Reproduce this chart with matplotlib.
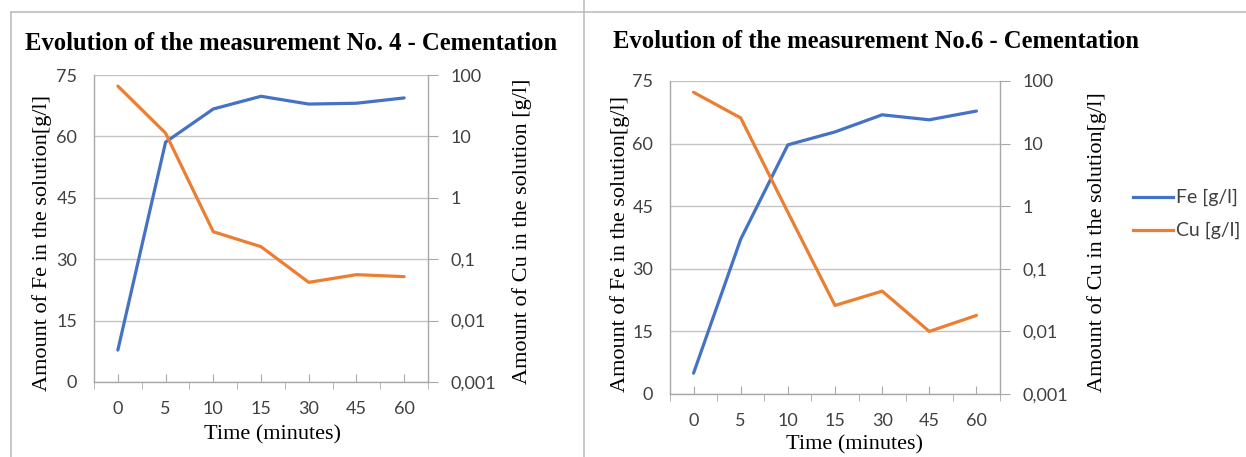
import matplotlib

matplotlib.use("Agg")
import matplotlib.pyplot as plt
from matplotlib.lines import Line2D

# data
times = ['0', '5', '10', '15', '30', '45', '60']
fe_no4 = [7.8, 58.6, 66.7, 69.8, 67.9, 68.1, 69.4]
cu_no4 = [66, 11.3, 0.28, 0.16, 0.042, 0.056, 0.052]
fe_no6 = [5.0, 37.1, 59.7, 62.8, 66.9, 65.7, 67.8]
cu_no6 = [66, 25.7, 0.8, 0.026, 0.044, 0.010, 0.018]

fe_ticks = [0, 15, 30, 45, 60, 75]
cu_ticks = [0.001, 0.01, 0.1, 1, 10, 100]
cu_labels = ['0,001', '0,01', '0,1', '1', '10', '100']
series_names = ['Fe [g/l]', 'Cu [g/l]']

BLUE = '#4472C4'
ORANGE = '#ED7D31'
GRID = '#c4c4c4'
AXIS = '#a8a8a8'
TICK_TXT = '#404040'
SERIF = 'Liberation Serif'
SANS = 'Lato'
TICK_FS = 13
LABEL_FS = 16
TITLE_FS = 17.7

W, H = 1246, 457
fig = plt.figure(figsize=(W / 100, H / 100), dpi=100)


def px(x, y):
    return x / W, 1 - y / H


def panel(rect, fe, cu):
    ax = fig.add_axes(rect)
    n = len(times)
    xs = list(range(n))
    ax.plot(xs, fe, color=BLUE, lw=2.3, solid_capstyle='round', zorder=3)
    ax.set_xlim(-0.5, n - 0.5)
    ax.set_ylim(0, 75)
    ax.set_yticks(fe_ticks)
    ax.set_yticklabels([str(t) for t in fe_ticks], family=SANS, fontsize=TICK_FS, color=TICK_TXT)
    ax.tick_params(axis='y', length=0, pad=12)
    ax.set_xticks(xs)
    ax.set_xticklabels(times, family=SANS, fontsize=TICK_FS, color=TICK_TXT)
    ax.set_xticks([i - 0.5 for i in range(n + 1)], minor=True)
    ax.tick_params(axis='x', which='major', direction='in', length=6, color=AXIS, pad=14)
    ax.tick_params(axis='x', which='minor', direction='out', length=5, color=AXIS)
    ax.grid(axis='y', color=GRID, lw=1)
    ax.set_axisbelow(True)
    for s in ['top', 'right']:
        ax.spines[s].set_visible(False)
    for s in ['left', 'bottom']:
        ax.spines[s].set_color(AXIS)
        ax.spines[s].set_linewidth(1)

    ax2 = ax.twinx()
    ax2.plot(xs, cu, color=ORANGE, lw=2.3, solid_capstyle='round', zorder=3)
    ax2.set_yscale('log')
    ax2.set_ylim(0.001, 100)
    ax2.set_yticks(cu_ticks)
    ax2.set_yticklabels(cu_labels, family=SANS, fontsize=TICK_FS, color=TICK_TXT)
    ax2.yaxis.set_minor_locator(plt.NullLocator())
    ax2.tick_params(axis='y', length=7, color=AXIS, pad=9)
    for s in ['top', 'left', 'bottom']:
        ax2.spines[s].set_visible(False)
    ax2.spines['right'].set_color(AXIS)
    ax2.spines['right'].set_linewidth(1)
    return ax, ax2


# left panel: measurement No. 4
l, b = px(94, 382)
r, t = px(428, 75)
panel([l, b, r - l, t - b], fe_no4, cu_no4)

# right panel: measurement No. 6
l, b = px(670, 394)
r, t = px(1000, 81)
panel([l, b, r - l, t - b], fe_no6, cu_no6)

# titles
fig.text(*px(25, 43), 'Evolution of the measurement No. 4 - Cementation',
         family=SERIF, fontweight='bold', fontsize=TITLE_FS, va='center', ha='left')
fig.text(*px(613, 42), 'Evolution of the measurement No.6 - Cementation',
         family=SERIF, fontweight='bold', fontsize=TITLE_FS, va='center', ha='left')

# axis labels
ylab_fe = 'Amount of Fe in the solution[g/l]'
fig.text(*px(42, 243), ylab_fe, family=SERIF, fontsize=LABEL_FS, rotation=90, ha='center', va='center')
fig.text(*px(522, 231), 'Amount of Cu in the solution [g/l]', family=SERIF, fontsize=LABEL_FS,
         rotation=90, ha='center', va='center')
fig.text(*px(620, 244), ylab_fe, family=SERIF, fontsize=LABEL_FS, rotation=90, ha='center', va='center')
fig.text(*px(1097, 242), 'Amount of Cu in the solution[g/l]', family=SERIF, fontsize=LABEL_FS,
         rotation=90, ha='center', va='center')
fig.text(*px(272, 435), 'Time (minutes)', family=SERIF, fontsize=LABEL_FS, ha='center', va='center')
fig.text(*px(855, 445), 'Time (minutes)', family=SERIF, fontsize=LABEL_FS, ha='center', va='center')

# legend, drawn by hand next to the right panel
for name, col, y in zip(series_names, [BLUE, ORANGE], [197, 230]):
    fig.add_artist(Line2D([1133 / W, 1173 / W], [1 - y / H] * 2, color=col, lw=2.3))
    fig.text(*px(1176, y), name, family=SANS, fontsize=14, color=TICK_TXT, ha='left', va='center')

# frame lines of the document
fig.add_artist(Line2D([11 / W, 1], [1 - 12 / H] * 2, color='#bdbdbd', lw=1.2))
fig.add_artist(Line2D([11 / W] * 2, [0, 1 - 12 / H], color='#bdbdbd', lw=1.2))
fig.add_artist(Line2D([584 / W] * 2, [0, 1], color='#bdbdbd', lw=1.2))

fig.savefig('out.png', dpi=100)
